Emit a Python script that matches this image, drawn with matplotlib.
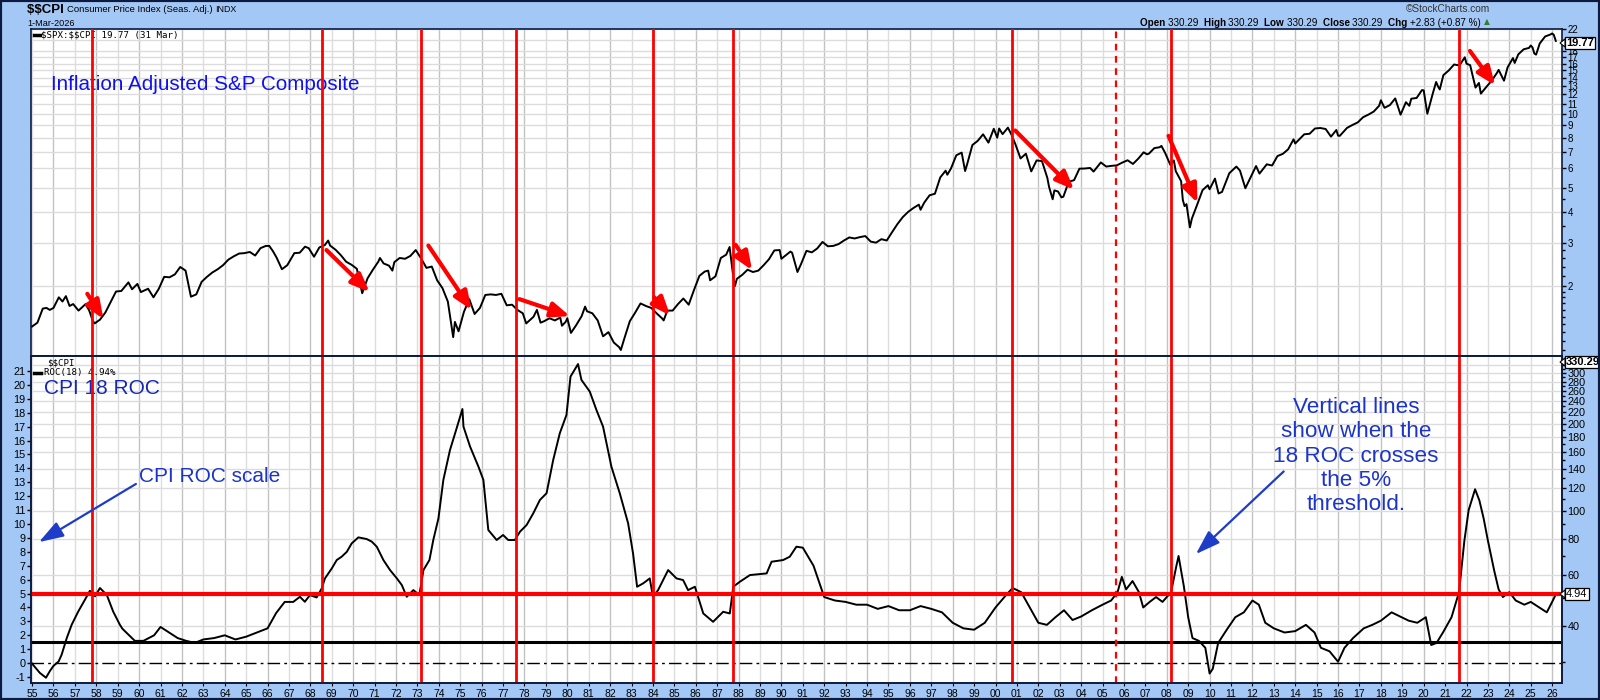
import matplotlib
matplotlib.use("Agg")
import matplotlib.pyplot as plt
from matplotlib.patches import Rectangle, Polygon
from matplotlib.lines import Line2D
from matplotlib.transforms import blended_transform_factory

plt.rcParams['font.family'] = ['Liberation Sans', 'DejaVu Sans']
plt.rcParams['text.parse_math'] = False

# ---------------- data ----------------
ratio_dates = [
 1955.00,1955.25,1955.50,1955.67,1955.83,1956.00,1956.25,1956.42,1956.58,1956.75,1956.92,
 1957.17,1957.50,1957.67,1957.83,1957.92,1958.17,1958.42,1958.67,1958.92,
 1959.17,1959.50,1959.67,1959.92,1960.08,1960.42,1960.67,1960.92,
 1961.17,1961.42,1961.67,1961.92,1962.17,1962.42,1962.67,1962.92,
 1963.17,1963.42,1963.67,1963.92,1964.17,1964.42,1964.67,1964.92,
 1965.17,1965.42,1965.67,1965.92,1966.08,1966.25,1966.42,1966.67,1966.92,
 1967.25,1967.50,1967.75,1967.92,1968.17,1968.42,1968.67,1968.83,1968.92,
 1969.17,1969.42,1969.67,1969.92,1970.17,1970.42,1970.67,1970.92,
 1971.17,1971.25,1971.42,1971.67,1971.83,1971.92,1972.17,1972.42,1972.67,1972.92,
 1973.17,1973.42,1973.67,1973.92,1974.17,1974.42,1974.67,1974.75,1974.92,
 1975.17,1975.42,1975.67,1975.92,1976.17,1976.42,1976.67,1976.92,
 1977.17,1977.42,1977.67,1977.92,1978.08,1978.42,1978.58,1978.75,1978.92,
 1979.17,1979.42,1979.67,1979.75,1979.92,1980.00,1980.17,1980.42,1980.67,1980.83,1980.92,
 1981.17,1981.42,1981.67,1981.92,1982.17,1982.42,1982.50,1982.67,1982.92,
 1983.17,1983.42,1983.67,1983.92,1984.17,1984.42,1984.50,1984.67,1984.92,
 1985.17,1985.42,1985.67,1985.92,1986.17,1986.42,1986.58,1986.67,1986.92,
 1987.17,1987.42,1987.58,1987.75,1987.83,1987.92,1988.17,1988.42,1988.67,1988.92,
 1989.17,1989.42,1989.67,1989.92,1990.00,1990.42,1990.50,1990.75,1990.92,
 1991.17,1991.42,1991.67,1991.92,1992.17,1992.42,1992.67,1992.92,
 1993.17,1993.42,1993.67,1993.92,1994.17,1994.42,1994.67,1994.92,
 1995.17,1995.42,1995.67,1995.92,1996.17,1996.42,1996.50,1996.67,1996.92,
 1997.17,1997.42,1997.67,1997.75,1997.92,1998.17,1998.42,1998.58,1998.67,1998.92,
 1999.17,1999.42,1999.67,1999.92,2000.08,2000.17,2000.33,2000.58,2000.75,2000.92,
 2001.17,2001.42,2001.67,2001.92,2002.17,2002.42,2002.50,2002.67,2002.75,2002.92,
 2003.08,2003.17,2003.42,2003.67,2003.92,2004.17,2004.42,2004.58,2004.92,
 2005.17,2005.42,2005.67,2005.92,2006.17,2006.42,2006.67,2006.92,
 2007.08,2007.17,2007.42,2007.67,2007.75,2007.92,
 2008.17,2008.33,2008.42,2008.67,2008.75,2008.83,2008.92,
 2009.08,2009.17,2009.42,2009.67,2009.92,2010.00,2010.25,2010.42,2010.58,2010.92,
 2011.25,2011.42,2011.67,2011.92,2012.17,2012.33,2012.67,2012.92,
 2013.17,2013.42,2013.67,2013.92,2014.00,2014.42,2014.67,2014.92,
 2015.17,2015.42,2015.58,2015.67,2015.92,2016.00,2016.08,2016.42,2016.67,2016.92,
 2017.17,2017.42,2017.67,2017.92,2018.00,2018.17,2018.42,2018.67,2018.92,
 2019.17,2019.33,2019.42,2019.67,2019.92,
 2020.00,2020.17,2020.42,2020.58,2020.67,2020.75,2020.92,
 2021.17,2021.42,2021.67,2021.92,2022.00,2022.17,2022.42,2022.58,2022.67,2022.92,
 2023.17,2023.42,2023.50,2023.75,2023.92,2024.17,2024.25,2024.42,2024.67,2024.92,
 2025.00,2025.08,2025.17,2025.25,2025.42,2025.67,2025.92,2026.00,2026.08,2026.17]
ratio_values = [
 1.37,1.42,1.62,1.63,1.60,1.63,1.80,1.73,1.82,1.66,1.69,
 1.59,1.69,1.59,1.45,1.41,1.46,1.56,1.72,1.90,
 1.91,2.07,1.94,2.04,1.89,1.95,1.80,1.95,
 2.18,2.17,2.23,2.39,2.31,1.81,1.85,2.08,
 2.18,2.27,2.34,2.43,2.56,2.64,2.71,2.72,
 2.75,2.66,2.85,2.91,2.91,2.77,2.61,2.34,2.43,
 2.72,2.73,2.89,2.85,2.63,2.87,2.93,3.06,2.92,
 2.81,2.67,2.51,2.44,2.35,1.87,2.15,2.33,
 2.51,2.60,2.47,2.42,2.31,2.50,2.60,2.58,2.65,2.80,
 2.59,2.37,2.40,2.11,1.96,1.73,1.24,1.43,1.31,
 1.57,1.77,1.54,1.63,1.84,1.85,1.84,1.86,
 1.67,1.68,1.60,1.55,1.41,1.50,1.60,1.42,1.44,
 1.48,1.45,1.49,1.38,1.43,1.48,1.29,1.39,1.51,1.65,1.58,
 1.55,1.45,1.25,1.30,1.18,1.13,1.10,1.23,1.44,
 1.56,1.70,1.66,1.63,1.55,1.48,1.45,1.59,1.59,
 1.69,1.78,1.68,1.93,2.20,2.29,2.31,2.11,2.19,
 2.60,2.68,2.88,2.19,2.00,2.14,2.22,2.33,2.28,2.31,
 2.43,2.57,2.79,2.80,2.58,2.76,2.73,2.28,2.46,
 2.78,2.74,2.84,3.02,2.90,2.91,2.96,3.06,
 3.15,3.12,3.16,3.19,3.03,3.00,3.10,3.06,
 3.31,3.57,3.81,4.00,4.15,4.28,4.08,4.36,4.67,
 4.74,5.52,5.88,5.66,6.00,6.79,6.96,5.86,6.22,7.47,
 7.77,8.26,7.64,8.70,8.00,8.72,8.27,8.79,8.22,7.56,
 6.59,6.89,5.84,6.47,6.43,5.50,5.06,4.50,4.89,4.84,
 4.58,4.61,5.30,5.38,5.99,6.00,6.03,5.83,6.35,
 6.11,6.15,6.18,6.34,6.48,6.26,6.58,6.98,
 6.85,6.90,7.26,7.32,7.41,6.95,
 6.20,6.47,5.85,5.33,4.47,4.22,4.30,
 3.46,3.75,4.28,4.90,5.13,4.94,5.46,4.75,4.82,5.74,
 6.11,5.88,4.99,5.54,6.14,5.72,6.24,6.17,
 6.74,6.88,7.18,7.88,7.58,8.26,8.30,8.72,
 8.76,8.68,8.29,8.08,8.60,8.16,8.14,8.77,9.01,9.23,
 9.69,9.93,10.22,10.79,11.35,10.58,10.85,11.55,9.92,
 11.15,10.78,11.52,11.60,12.49,
 12.45,10.01,12.05,13.47,12.92,12.56,14.36,
 15.00,15.86,15.72,16.97,15.98,15.76,12.78,13.35,12.08,12.84,
 13.62,14.65,15.08,13.63,15.45,16.84,16.09,17.44,18.28,18.52,
 18.94,18.62,17.56,17.39,19.30,20.60,21.00,21.20,20.90,19.77]

roc_dates = [
 1954.98,1955.20,1955.36,1955.65,1955.84,1956.00,1956.24,1956.38,1956.62,1956.85,
 1957.16,1957.47,1957.70,1957.94,1958.17,1958.49,1958.79,1959.10,1959.22,1959.80,
 1960.20,1960.70,1961.00,1961.40,1961.80,1962.20,1962.60,1963.00,1963.50,1964.00,
 1964.50,1965.00,1965.50,1966.00,1966.40,1966.80,1967.20,1967.51,1967.74,1967.98,
 1968.29,1968.53,1968.68,1969.00,1969.23,1969.46,1969.70,1969.93,1970.24,1970.63,
 1970.87,1971.10,1971.41,1971.72,1972.04,1972.27,1972.50,1972.81,1973.09,1973.28,
 1973.56,1973.74,1973.98,1974.21,1974.52,1974.83,1975.10,1975.15,1975.46,1975.85,
 1976.08,1976.31,1976.70,1977.00,1977.24,1977.55,1977.79,1978.10,1978.41,1978.72,
 1979.03,1979.34,1979.65,1979.96,1980.15,1980.50,1980.66,1981.05,1981.36,1981.67,
 1982.06,1982.45,1982.84,1983.07,1983.26,1983.54,1983.85,1984.00,1984.24,1984.71,
 1985.10,1985.41,1985.64,1985.96,1986.35,1986.81,1987.28,1987.59,1987.75,1988.06,
 1988.53,1989.31,1989.54,1990.08,1990.39,1990.70,1991.00,1991.50,1992.00,1992.50,
 1993.00,1993.50,1994.00,1994.50,1995.00,1995.50,1996.00,1996.50,1997.00,1997.50,
 1998.00,1998.50,1999.00,1999.50,2000.00,2000.50,2000.80,2001.20,2001.60,2002.00,
 2002.40,2002.80,2003.20,2003.60,2004.00,2004.50,2005.00,2005.40,2005.70,2005.90,
 2006.10,2006.40,2006.70,2006.90,2007.20,2007.50,2007.80,2008.00,2008.20,2008.45,
 2008.55,2008.80,2009.00,2009.20,2009.50,2009.80,2010.00,2010.15,2010.40,2010.80,
 2011.20,2011.60,2012.00,2012.30,2012.60,2013.00,2013.50,2014.00,2014.50,2014.90,
 2015.20,2015.60,2016.00,2016.30,2016.70,2017.20,2017.60,2018.00,2018.50,2018.90,
 2019.30,2019.70,2020.10,2020.35,2020.60,2020.90,2021.30,2021.65,2021.90,2022.10,
 2022.40,2022.60,2022.80,2023.00,2023.30,2023.50,2023.70,2024.00,2024.30,2024.70,
 2025.00,2025.40,2025.75,2026.00,2026.17]
roc_values = [
 0.00,-0.40,-0.70,-1.05,-0.55,-0.20,0.12,0.60,1.80,2.76,
 3.72,4.56,5.20,4.80,5.40,4.90,3.70,2.76,2.47,1.60,
 1.60,2.00,2.60,2.20,1.80,1.60,1.45,1.70,1.80,2.00,
 1.70,1.90,2.20,2.50,3.60,4.40,4.40,4.77,4.41,4.89,
 4.72,5.37,6.09,6.81,7.41,7.65,8.00,8.61,9.04,8.92,
 8.73,8.37,7.41,6.69,6.09,5.61,4.77,5.25,4.89,6.69,
 7.41,8.85,10.40,13.17,15.32,16.88,18.27,17.00,15.56,14.12,
 13.17,9.57,8.85,9.21,8.85,8.85,9.45,9.93,10.77,11.73,
 12.21,14.60,16.53,17.84,20.60,21.50,20.36,19.52,18.20,17.00,
 14.12,12.21,10.05,7.89,5.49,5.73,6.09,4.77,5.25,6.69,
 6.09,5.97,5.25,5.49,3.57,2.97,3.69,3.57,5.49,5.85,
 6.33,6.45,7.29,7.41,7.65,8.37,8.30,7.00,4.75,4.50,
 4.40,4.20,4.20,3.90,4.10,3.80,3.80,4.10,3.90,3.65,
 2.90,2.50,2.40,2.90,4.00,4.90,5.40,5.10,4.00,2.90,
 2.75,3.30,3.80,3.10,3.35,3.80,4.20,4.50,5.10,6.20,
 5.30,5.90,5.10,4.00,4.40,4.75,4.40,4.75,5.10,7.00,
 7.70,5.50,3.30,1.80,1.60,1.10,-0.75,-0.40,1.45,2.40,
 3.30,3.65,4.50,4.20,2.90,2.50,2.20,2.30,2.75,2.20,
 1.10,0.85,0.10,1.10,1.80,2.50,2.75,3.05,3.65,3.35,
 3.05,2.90,3.30,1.30,1.45,2.20,3.30,5.10,8.80,11.00,
 12.50,11.70,10.40,8.80,6.60,5.30,4.75,5.10,4.50,4.20,
 4.40,4.00,3.65,4.40,4.94]

signal_years = [1957.79, 1968.56, 1973.18, 1977.62, 1984.00, 1987.72, 2000.77, 2008.19, 2021.65]
dashed_signal_years = [2005.63]
roc_threshold = 5.0
roc_floor = 1.5

# red arrows on the S&P panel: (start year, start value, end year, end value)
red_arrows = [
 (1957.58, 1.86, 1958.33, 1.47),
 (1968.75, 2.80, 1970.76, 1.89),
 (1973.51, 2.92, 1975.53, 1.60),
 (1977.76, 1.77, 1980.12, 1.51),
 (1984.06, 1.80, 1984.80, 1.52),
 (1987.86, 2.94, 1988.63, 2.32),
 (2000.92, 8.56, 2003.67, 4.92),
 (2008.08, 8.14, 2009.43, 4.35),
 (2022.16, 18.0, 2023.33, 13.05)]
blue_arrows = [
 (1959.85, 12.88, 1955.32, 8.70),
 (2013.46, 13.78, 2009.36, 7.84)]

year_ticks = list(range(1955, 2027))
year_labels = ["%02d" % (y % 100) for y in year_ticks]
ratio_ticks = [2, 3, 4, 5, 6, 7, 8, 9, 10, 11, 12, 13, 14, 15, 16, 17, 18, 20, 22]
ratio_labels = ['2', '3', '4', '5', '6', '7', '8', '9', '10', '11', '12', '13', '14',
                '15', '16', '17', '18', '', '22']
ratio_minor = [1.1, 1.2, 1.3, 1.4, 1.5, 1.6, 1.7, 1.8, 1.9, 2.2, 2.4, 2.6, 2.8, 3.5, 4.5]
roc_ticks = list(range(-1, 22))
cpi_ticks = [40, 60, 80, 100, 120, 140, 160, 180, 200, 220, 240, 260, 280, 300]
cpi_minor = [30, 50, 70, 90, 110, 130, 150, 170, 190, 210, 230, 250, 270, 290, 310, 320]

# ---------------- figure ----------------
W, H = 1600, 700
fig = plt.figure(figsize=(16, 7), dpi=100)
BG = '#A4C8F5'
fig.patch.set_facecolor(BG)
NAVY = '#0D1A40'

def fx(px): return px / W
def fy(py): return 1 - py / H

L, R = 31, 1562
T1, B1 = 29, 356
T2, B2 = 356, 683
XMIN, XMAX = 1954.95, 2026.46

ax1 = fig.add_axes([fx(L), fy(B1), (R - L) / W, (B1 - T1) / H])
ax2 = fig.add_axes([fx(L), fy(B2), (R - L) / W, (B2 - T2) / H])

for ax in (ax1, ax2):
    ax.set_facecolor('white')
    ax.set_xlim(XMIN, XMAX)
    for s in ax.spines.values():
        s.set_color(NAVY)
        s.set_linewidth(1.2)
    for y in year_ticks:
        ax.axvline(y, color='#C2C2C2' if y % 2 == 0 else '#DDDDDD', lw=1.0, zorder=0)

# ---- top panel ----
ax1.set_yscale('log')
ax1.set_ylim(1.04, 22.1)
for v in ratio_ticks:
    ax1.axhline(v, color='#DCDCDC', lw=1.0, zorder=0)
ax1.plot(ratio_dates, ratio_values, color='black', lw=1.4, zorder=3)
ax1.yaxis.tick_right()
ax1.set_yticks(ratio_ticks)
ax1.set_yticklabels(ratio_labels)
ax1.set_yticks(ratio_minor, minor=True)
ax1.set_yticklabels([], minor=True)
ax1.tick_params(axis='y', which='major', direction='out', length=3, width=1, pad=1,
                labelsize=7.0, colors='black')
ax1.tick_params(axis='y', which='minor', direction='out', length=2, width=1)
ax1.set_xticks([])
for yr in signal_years:
    ax1.axvline(yr, color='red', lw=2, zorder=5)
for yr in dashed_signal_years:
    ax1.axvline(yr, color='red', lw=1.6, ls=(0, (3, 2.5)), zorder=5)
for x0, y0, x1, y1 in red_arrows:
    ax1.annotate('', xy=(x1, y1), xytext=(x0, y0), zorder=6,
                 arrowprops=dict(arrowstyle='-|>,head_length=1.1,head_width=0.45',
                                 color='red', lw=3, shrinkA=0, shrinkB=0))

# ---- bottom panel ----
ax2.set_ylim(-1.43, 22.08)
ax2r = ax2.twinx()
ax2r.set_yscale('log')
ax2r.set_ylim(25.4, 343.5)
ax2r.set_xlim(XMIN, XMAX)
trans_grid = blended_transform_factory(ax2.transAxes, ax2r.transData)
for v in cpi_ticks + [320]:
    ax2.plot([0, 1], [v, v], transform=trans_grid, color='#DCDCDC', lw=1.0, zorder=0)
ax2.plot(roc_dates, roc_values, color='black', lw=1.4, zorder=3)
ax2.axhline(roc_threshold, color='red', lw=3, zorder=4)
ax2.axhline(roc_floor, color='black', lw=2.2, zorder=2)
ax2.axhline(0, color='black', lw=1.0, ls=(0, (9, 3, 2, 3)), zorder=2)
for yr in signal_years:
    ax2.axvline(yr, color='red', lw=2, zorder=5)
for yr in dashed_signal_years:
    ax2.axvline(yr, color='red', lw=1.6, ls=(0, (3, 2.5)), zorder=5)
ax2.set_yticks(roc_ticks)
ax2.set_yticklabels([str(v) for v in roc_ticks])
ax2.tick_params(axis='y', direction='out', length=3, width=1, pad=1, labelsize=7.8)
ax2.set_xticks(year_ticks)
ax2.set_xticklabels(year_labels)
ax2.tick_params(axis='x', direction='out', length=2, pad=2, labelsize=7.5)
ax2r.set_yticks(cpi_ticks)
ax2r.set_yticklabels([str(v) for v in cpi_ticks])
ax2r.set_yticks(cpi_minor, minor=True)
ax2r.set_yticklabels([], minor=True)
ax2r.tick_params(axis='y', which='major', direction='out', length=3, width=1, pad=1, labelsize=7.8)
ax2r.tick_params(axis='y', which='minor', direction='out', length=2, width=1)
for s in ax2r.spines.values():
    s.set_color(NAVY)
    s.set_linewidth(1.2)

BLUE_ARROW = '#1E3CC8'
for x0, y0, x1, y1 in blue_arrows:
    ax2.annotate('', xy=(x1, y1), xytext=(x0, y0), zorder=6,
                 arrowprops=dict(arrowstyle='-|>,head_length=1.5,head_width=0.5',
                                 color=BLUE_ARROW, lw=1.6, shrinkA=0, shrinkB=0))

# ---- texts ----
def atext(ax, px, py, s, **kw):
    return ax.text(fx(px), fy(py), s, transform=fig.transFigure, **kw)

atext(ax1, 51, 85, 'Inflation Adjusted S&P Composite', fontsize=14.9, color='#1010F0',
      va='center', ha='left', zorder=2)
atext(ax2, 44, 389, 'CPI 18 ROC', fontsize=15, color='#1428B4', va='center', ha='left', zorder=2)
atext(ax2, 139, 476, 'CPI ROC scale', fontsize=15, color='#1C34C8', va='center', ha='left', zorder=2)
atext(ax2, 1356, 456, 'Vertical lines\nshow when the\n18 ROC crosses\nthe 5%\nthreshold.',
      fontsize=16.2, color='#1C34C8', va='center', ha='center', linespacing=1.2, zorder=2)

MONO = ['DejaVu Sans Mono']
atext(ax1, 41, 35, '$SPX:$$CPI 19.77 (31 Mar)', fontsize=6.6, family=MONO, va='center', ha='left', zorder=2)
ax1.add_line(Line2D([fx(34), fx(40)], [fy(35), fy(35)], transform=fig.transFigure, color='black', lw=2.5, zorder=2))
atext(ax2, 47, 363, '$$CPI', fontsize=6.6, family=MONO, va='center', ha='left', zorder=2)
atext(ax2, 44, 373, 'ROC(18) 4.94%', fontsize=6.6, family=MONO, va='center', ha='left', zorder=2)
ax2.add_line(Line2D([fx(34), fx(41)], [fy(373), fy(373)], transform=fig.transFigure, color='black', lw=2.5, zorder=2))

renderer = fig.canvas.get_renderer()

def seq(x, y, parts):
    for s, size, bold in parts:
        t = fig.text(fx(x), fy(y), s, fontsize=size, fontweight='bold' if bold else 'normal',
                     va='center', ha='left')
        x += t.get_window_extent(renderer=renderer).width
    return x

# header
seq(27, 10, [('$$CPI ', 9.5, True), ('Consumer Price Index (Seas. Adj.) ', 6.8, False),
             ('INDX', 6.4, False)])
fig.text(fx(27), fy(23), '1-Mar-2026', fontsize=6.6, va='center', ha='left')
fig.text(fx(1490), fy(9), '\u00a9StockCharts.com', fontsize=7.3, va='center', ha='right', color='#333333')

pieces = [('Open ', 7.1, True), ('330.29  ', 7.1, False), ('High ', 7.1, True), ('330.29  ', 7.1, False),
          ('Low ', 7.1, True), ('330.29  ', 7.1, False), ('Close ', 7.1, True), ('330.29  ', 7.1, False),
          ('Chg ', 7.1, True), ('+2.83 (+0.87 %)', 7.1, False)]
probe_total = 0
for s, size, b in pieces:
    t = fig.text(0, 0, s, fontsize=size, fontweight='bold' if b else 'normal')
    probe_total += t.get_window_extent(renderer=renderer).width
    t.remove()
xend = seq(1481 - probe_total, 23, pieces)
fig.text(fx(xend + 3), fy(22), '\u25b2', fontsize=5.5, color='#2E7D32', va='center', ha='left',
         family=['DejaVu Sans'])

# value tags
def tag(py, s, bold):
    fig.text(fx(1566), fy(py), s, fontsize=8, fontweight='bold' if bold else 'normal',
             va='center', ha='left', zorder=10,
             bbox=dict(boxstyle='square,pad=0.12', fc='white', ec='black', lw=0.9))
    fig.add_artist(Polygon([[fx(1560), fy(py)], [fx(1565), fy(py - 4)], [fx(1565), fy(py + 4)]],
                           closed=True, fc='white', ec='black', lw=0.8, zorder=11,
                           transform=fig.transFigure))

tag(43, '19.77', True)
tag(362, '330.29', True)
tag(594, '4.94', False)

fig.add_artist(Rectangle((0, 0), 1, 1, transform=fig.transFigure, fill=False,
                         ec=NAVY, lw=3, zorder=20))

fig.savefig('out.png', dpi=100, facecolor=BG)
